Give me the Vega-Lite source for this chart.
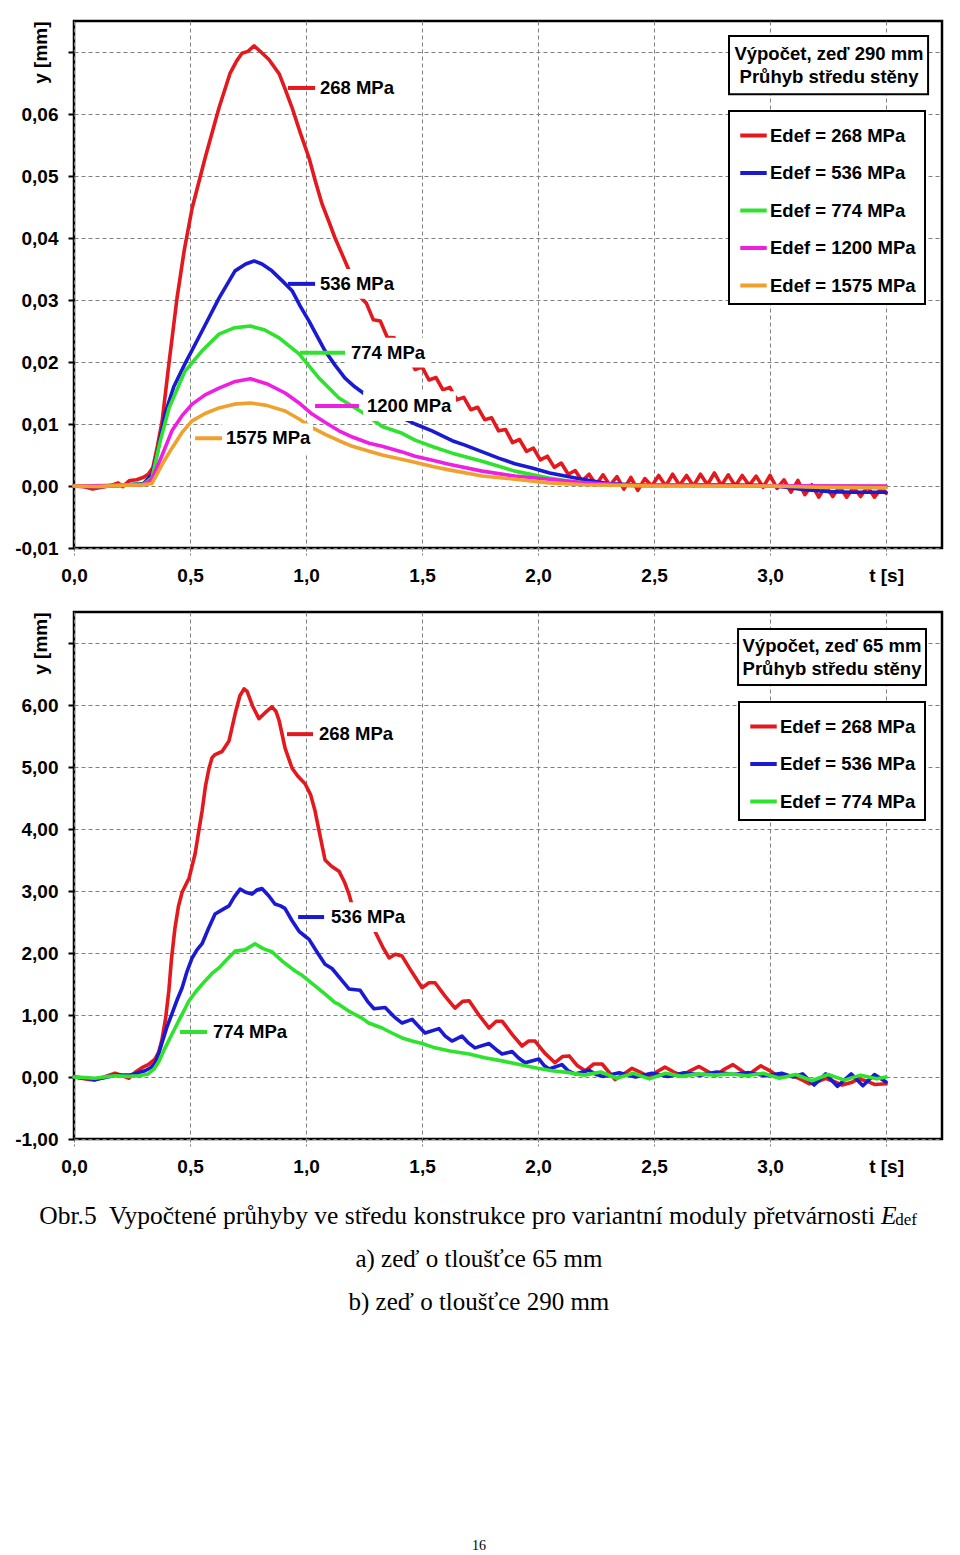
{
"$schema": "https://vega.github.io/schema/vega-lite/v6.json",
"padding": {"left": 13, "top": 19, "right": 0, "bottom": 0},
"background": "white",
"bounds": "flush",
"spacing": 64,
"resolve": {"scale": {"x": "independent", "y": "independent", "color": "independent"}, "legend": {"color": "independent"}},
"datasets": {
"p1": [
{"s":"268","t":0,"y":0},{"s":"268","t":0.04,"y":-0.0001},{"s":"268","t":0.08,"y":-0.0005},{"s":"268","t":0.12,"y":-0.0002},{"s":"268","t":0.16,"y":0.0001},{"s":"268","t":0.19,"y":0.0005},{"s":"268","t":0.21,"y":-0.0001},{"s":"268","t":0.24,"y":0.0009},{"s":"268","t":0.27,"y":0.001},{"s":"268","t":0.3,"y":0.0014},{"s":"268","t":0.32,"y":0.0019},{"s":"268","t":0.34,"y":0.003},{"s":"268","t":0.36,"y":0.0065},{"s":"268","t":0.38,"y":0.0105},{"s":"268","t":0.41,"y":0.02},{"s":"268","t":0.444,"y":0.0303},{"s":"268","t":0.475,"y":0.038},{"s":"268","t":0.509,"y":0.0448},{"s":"268","t":0.565,"y":0.0529},{"s":"268","t":0.625,"y":0.061},{"s":"268","t":0.672,"y":0.0665},{"s":"268","t":0.7,"y":0.0685},{"s":"268","t":0.724,"y":0.0698},{"s":"268","t":0.75,"y":0.0701},{"s":"268","t":0.776,"y":0.071},{"s":"268","t":0.8,"y":0.0702},{"s":"268","t":0.84,"y":0.0688},{"s":"268","t":0.884,"y":0.0665},{"s":"268","t":0.91,"y":0.064},{"s":"268","t":0.94,"y":0.061},{"s":"268","t":0.975,"y":0.057},{"s":"268","t":1.013,"y":0.0529},{"s":"268","t":1.04,"y":0.0492},{"s":"268","t":1.069,"y":0.0455},{"s":"268","t":1.1,"y":0.0425},{"s":"268","t":1.125,"y":0.04},{"s":"268","t":1.168,"y":0.0363},{"s":"268","t":1.2,"y":0.0335},{"s":"268","t":1.23,"y":0.0306},{"s":"268","t":1.26,"y":0.0295},{"s":"268","t":1.29,"y":0.0268},{"s":"268","t":1.32,"y":0.0266},{"s":"268","t":1.35,"y":0.024},{"s":"268","t":1.38,"y":0.0239},{"s":"268","t":1.41,"y":0.0213},{"s":"268","t":1.44,"y":0.0212},{"s":"268","t":1.47,"y":0.0188},{"s":"268","t":1.5,"y":0.0192},{"s":"268","t":1.53,"y":0.0171},{"s":"268","t":1.56,"y":0.0175},{"s":"268","t":1.59,"y":0.0155},{"s":"268","t":1.62,"y":0.0159},{"s":"268","t":1.65,"y":0.0139},{"s":"268","t":1.68,"y":0.0143},{"s":"268","t":1.71,"y":0.0123},{"s":"268","t":1.74,"y":0.0127},{"s":"268","t":1.77,"y":0.0107},{"s":"268","t":1.8,"y":0.011},{"s":"268","t":1.83,"y":0.0089},{"s":"268","t":1.86,"y":0.0091},{"s":"268","t":1.89,"y":0.007},{"s":"268","t":1.92,"y":0.0075},{"s":"268","t":1.95,"y":0.0056},{"s":"268","t":1.98,"y":0.0061},{"s":"268","t":2.01,"y":0.0042},{"s":"268","t":2.04,"y":0.0048},{"s":"268","t":2.07,"y":0.003},{"s":"268","t":2.1,"y":0.0037},{"s":"268","t":2.13,"y":0.0019},{"s":"268","t":2.16,"y":0.0025},{"s":"268","t":2.19,"y":0.0008},{"s":"268","t":2.22,"y":0.0019},{"s":"268","t":2.25,"y":0.0002},{"s":"268","t":2.28,"y":0.0018},{"s":"268","t":2.31,"y":0.0001},{"s":"268","t":2.34,"y":0.0015},{"s":"268","t":2.37,"y":-0.0005},{"s":"268","t":2.4,"y":0.0014},{"s":"268","t":2.43,"y":-0.0007},{"s":"268","t":2.46,"y":0.0012},{"s":"268","t":2.49,"y":0},{"s":"268","t":2.52,"y":0.0017},{"s":"268","t":2.55,"y":0},{"s":"268","t":2.58,"y":0.0019},{"s":"268","t":2.61,"y":0.0001},{"s":"268","t":2.64,"y":0.0017},{"s":"268","t":2.67,"y":0},{"s":"268","t":2.7,"y":0.0019},{"s":"268","t":2.73,"y":0.0002},{"s":"268","t":2.76,"y":0.0021},{"s":"268","t":2.79,"y":0.0001},{"s":"268","t":2.82,"y":0.0018},{"s":"268","t":2.85,"y":0},{"s":"268","t":2.88,"y":0.0017},{"s":"268","t":2.91,"y":0.0001},{"s":"268","t":2.94,"y":0.0016},{"s":"268","t":2.97,"y":-0.0002},{"s":"268","t":3.0,"y":0.0017},{"s":"268","t":3.03,"y":-0.0004},{"s":"268","t":3.06,"y":0.001},{"s":"268","t":3.09,"y":-0.001},{"s":"268","t":3.12,"y":0.0009},{"s":"268","t":3.15,"y":-0.0014},{"s":"268","t":3.18,"y":0.0002},{"s":"268","t":3.21,"y":-0.0018},{"s":"268","t":3.24,"y":0},{"s":"268","t":3.27,"y":-0.0017},{"s":"268","t":3.3,"y":-0.0001},{"s":"268","t":3.33,"y":-0.0018},{"s":"268","t":3.36,"y":-0.0002},{"s":"268","t":3.39,"y":-0.0017},{"s":"268","t":3.42,"y":-0.0001},{"s":"268","t":3.45,"y":-0.0018},{"s":"268","t":3.48,"y":-0.0003},{"s":"268","t":3.5,"y":-0.0012},
{"s":"536","t":0,"y":0},{"s":"536","t":0.1,"y":-0.0001},{"s":"536","t":0.2,"y":0.0001},{"s":"536","t":0.3,"y":0.0004},{"s":"536","t":0.336,"y":0.0019},{"s":"536","t":0.36,"y":0.0055},{"s":"536","t":0.392,"y":0.0116},{"s":"536","t":0.43,"y":0.016},{"s":"536","t":0.478,"y":0.0197},{"s":"536","t":0.552,"y":0.025},{"s":"536","t":0.625,"y":0.0303},{"s":"536","t":0.694,"y":0.0347},{"s":"536","t":0.74,"y":0.0358},{"s":"536","t":0.776,"y":0.0363},{"s":"536","t":0.81,"y":0.0358},{"s":"536","t":0.853,"y":0.0347},{"s":"536","t":0.9,"y":0.033},{"s":"536","t":0.94,"y":0.0315},{"s":"536","t":0.975,"y":0.029},{"s":"536","t":1.013,"y":0.0266},{"s":"536","t":1.05,"y":0.024},{"s":"536","t":1.082,"y":0.0218},{"s":"536","t":1.125,"y":0.0195},{"s":"536","t":1.168,"y":0.0174},{"s":"536","t":1.21,"y":0.016},{"s":"536","t":1.254,"y":0.0148},{"s":"536","t":1.33,"y":0.0128},{"s":"536","t":1.414,"y":0.011},{"s":"536","t":1.47,"y":0.01},{"s":"536","t":1.543,"y":0.0089},{"s":"536","t":1.63,"y":0.0073},{"s":"536","t":1.685,"y":0.0066},{"s":"536","t":1.76,"y":0.0055},{"s":"536","t":1.83,"y":0.0045},{"s":"536","t":1.9,"y":0.0036},{"s":"536","t":1.974,"y":0.0029},{"s":"536","t":2.05,"y":0.0021},{"s":"536","t":2.117,"y":0.0016},{"s":"536","t":2.19,"y":0.0011},{"s":"536","t":2.3,"y":0.0004},{"s":"536","t":2.45,"y":0.0001},{"s":"536","t":2.7,"y":0.0002},{"s":"536","t":2.95,"y":0.0001},{"s":"536","t":3.05,"y":-0.0001},{"s":"536","t":3.15,"y":-0.0006},{"s":"536","t":3.25,"y":-0.0009},{"s":"536","t":3.35,"y":-0.001},{"s":"536","t":3.5,"y":-0.001},
{"s":"774","t":0,"y":0},{"s":"774","t":0.1,"y":0},{"s":"774","t":0.2,"y":0.0001},{"s":"774","t":0.3,"y":0.0003},{"s":"774","t":0.336,"y":0.0013},{"s":"774","t":0.37,"y":0.007},{"s":"774","t":0.41,"y":0.0126},{"s":"774","t":0.478,"y":0.0185},{"s":"774","t":0.552,"y":0.0218},{"s":"774","t":0.625,"y":0.0245},{"s":"774","t":0.69,"y":0.0255},{"s":"774","t":0.76,"y":0.0258},{"s":"774","t":0.82,"y":0.0252},{"s":"774","t":0.884,"y":0.0239},{"s":"774","t":0.97,"y":0.0213},{"s":"774","t":1.056,"y":0.0174},{"s":"774","t":1.142,"y":0.0142},{"s":"774","t":1.254,"y":0.0116},{"s":"774","t":1.328,"y":0.0096},{"s":"774","t":1.414,"y":0.0085},{"s":"774","t":1.47,"y":0.0074},{"s":"774","t":1.55,"y":0.0063},{"s":"774","t":1.63,"y":0.0053},{"s":"774","t":1.759,"y":0.004},{"s":"774","t":1.9,"y":0.0024},{"s":"774","t":2.047,"y":0.0013},{"s":"774","t":2.13,"y":0.0008},{"s":"774","t":2.25,"y":0.0003},{"s":"774","t":2.4,"y":0.0001},{"s":"774","t":2.7,"y":0.0001},{"s":"774","t":3.0,"y":0},{"s":"774","t":3.5,"y":-0.0001},
{"s":"1200","t":0,"y":0},{"s":"1200","t":0.2,"y":0.0001},{"s":"1200","t":0.3,"y":0.0002},{"s":"1200","t":0.336,"y":0.0011},{"s":"1200","t":0.38,"y":0.005},{"s":"1200","t":0.422,"y":0.0089},{"s":"1200","t":0.465,"y":0.0113},{"s":"1200","t":0.509,"y":0.0132},{"s":"1200","t":0.565,"y":0.0147},{"s":"1200","t":0.625,"y":0.0158},{"s":"1200","t":0.69,"y":0.0168},{"s":"1200","t":0.76,"y":0.0173},{"s":"1200","t":0.83,"y":0.0165},{"s":"1200","t":0.91,"y":0.015},{"s":"1200","t":0.97,"y":0.0134},{"s":"1200","t":1.026,"y":0.0116},{"s":"1200","t":1.085,"y":0.0102},{"s":"1200","t":1.142,"y":0.0089},{"s":"1200","t":1.2,"y":0.0079},{"s":"1200","t":1.272,"y":0.0069},{"s":"1200","t":1.328,"y":0.0064},{"s":"1200","t":1.414,"y":0.0055},{"s":"1200","t":1.47,"y":0.0048},{"s":"1200","t":1.55,"y":0.0041},{"s":"1200","t":1.616,"y":0.0035},{"s":"1200","t":1.759,"y":0.0024},{"s":"1200","t":1.9,"y":0.0016},{"s":"1200","t":2.047,"y":0.0011},{"s":"1200","t":2.2,"y":0.0005},{"s":"1200","t":2.4,"y":0.0001},{"s":"1200","t":3.5,"y":0},
{"s":"1575","t":0,"y":0},{"s":"1575","t":0.1,"y":-0.0001},{"s":"1575","t":0.2,"y":0.0001},{"s":"1575","t":0.3,"y":0.0002},{"s":"1575","t":0.336,"y":0.0004},{"s":"1575","t":0.38,"y":0.0035},{"s":"1575","t":0.422,"y":0.0061},{"s":"1575","t":0.465,"y":0.0086},{"s":"1575","t":0.509,"y":0.0105},{"s":"1575","t":0.565,"y":0.0117},{"s":"1575","t":0.625,"y":0.0126},{"s":"1575","t":0.69,"y":0.0132},{"s":"1575","t":0.76,"y":0.0134},{"s":"1575","t":0.83,"y":0.013},{"s":"1575","t":0.91,"y":0.0121},{"s":"1575","t":0.97,"y":0.0108},{"s":"1575","t":1.026,"y":0.0094},{"s":"1575","t":1.085,"y":0.0083},{"s":"1575","t":1.142,"y":0.0073},{"s":"1575","t":1.2,"y":0.0064},{"s":"1575","t":1.272,"y":0.0056},{"s":"1575","t":1.328,"y":0.005},{"s":"1575","t":1.45,"y":0.004},{"s":"1575","t":1.55,"y":0.0031},{"s":"1575","t":1.616,"y":0.0026},{"s":"1575","t":1.759,"y":0.0016},{"s":"1575","t":1.9,"y":0.0011},{"s":"1575","t":2.047,"y":0.0005},{"s":"1575","t":2.2,"y":0.0002},{"s":"1575","t":2.5,"y":0},{"s":"1575","t":3.0,"y":0},{"s":"1575","t":3.2,"y":-0.0002},{"s":"1575","t":3.5,"y":-0.0003}
],
"p2": [
{"s":"268","t":0,"y":0},{"s":"268","t":0.05,"y":-0.03},{"s":"268","t":0.09,"y":-0.05},{"s":"268","t":0.13,"y":0},{"s":"268","t":0.177,"y":0.06},{"s":"268","t":0.21,"y":0.02},{"s":"268","t":0.237,"y":-0.02},{"s":"268","t":0.265,"y":0.08},{"s":"268","t":0.293,"y":0.15},{"s":"268","t":0.32,"y":0.2},{"s":"268","t":0.349,"y":0.29},{"s":"268","t":0.365,"y":0.4},{"s":"268","t":0.379,"y":0.6},{"s":"268","t":0.395,"y":0.95},{"s":"268","t":0.409,"y":1.4},{"s":"268","t":0.42,"y":1.9},{"s":"268","t":0.435,"y":2.4},{"s":"268","t":0.45,"y":2.75},{"s":"268","t":0.466,"y":2.98},{"s":"268","t":0.496,"y":3.21},{"s":"268","t":0.522,"y":3.6},{"s":"268","t":0.537,"y":3.95},{"s":"268","t":0.552,"y":4.29},{"s":"268","t":0.567,"y":4.7},{"s":"268","t":0.582,"y":4.98},{"s":"268","t":0.595,"y":5.15},{"s":"268","t":0.608,"y":5.2},{"s":"268","t":0.638,"y":5.25},{"s":"268","t":0.668,"y":5.42},{"s":"268","t":0.694,"y":5.85},{"s":"268","t":0.715,"y":6.15},{"s":"268","t":0.733,"y":6.26},{"s":"268","t":0.746,"y":6.22},{"s":"268","t":0.77,"y":5.98},{"s":"268","t":0.797,"y":5.78},{"s":"268","t":0.825,"y":5.88},{"s":"268","t":0.853,"y":5.97},{"s":"268","t":0.87,"y":5.9},{"s":"268","t":0.884,"y":5.75},{"s":"268","t":0.91,"y":5.3},{"s":"268","t":0.94,"y":4.98},{"s":"268","t":0.965,"y":4.85},{"s":"268","t":0.996,"y":4.73},{"s":"268","t":1.02,"y":4.55},{"s":"268","t":1.039,"y":4.29},{"s":"268","t":1.06,"y":3.9},{"s":"268","t":1.082,"y":3.5},{"s":"268","t":1.11,"y":3.4},{"s":"268","t":1.142,"y":3.32},{"s":"268","t":1.165,"y":3.15},{"s":"268","t":1.185,"y":2.95},{"s":"268","t":1.2,"y":2.75},{"s":"268","t":1.25,"y":2.55},{"s":"268","t":1.297,"y":2.35},{"s":"268","t":1.33,"y":2.1},{"s":"268","t":1.358,"y":1.92},{"s":"268","t":1.385,"y":1.98},{"s":"268","t":1.414,"y":1.95},{"s":"268","t":1.455,"y":1.7},{"s":"268","t":1.5,"y":1.44},{"s":"268","t":1.53,"y":1.52},{"s":"268","t":1.556,"y":1.52},{"s":"268","t":1.6,"y":1.3},{"s":"268","t":1.642,"y":1.11},{"s":"268","t":1.675,"y":1.22},{"s":"268","t":1.703,"y":1.23},{"s":"268","t":1.745,"y":1.0},{"s":"268","t":1.789,"y":0.79},{"s":"268","t":1.82,"y":0.9},{"s":"268","t":1.845,"y":0.9},{"s":"268","t":1.89,"y":0.68},{"s":"268","t":1.931,"y":0.5},{"s":"268","t":1.96,"y":0.58},{"s":"268","t":1.987,"y":0.58},{"s":"268","t":2.03,"y":0.38},{"s":"268","t":2.073,"y":0.23},{"s":"268","t":2.105,"y":0.33},{"s":"268","t":2.134,"y":0.34},{"s":"268","t":2.17,"y":0.18},{"s":"268","t":2.203,"y":0.1},{"s":"268","t":2.24,"y":0.21},{"s":"268","t":2.276,"y":0.21},{"s":"268","t":2.332,"y":-0.04},{"s":"268","t":2.37,"y":0.05},{"s":"268","t":2.405,"y":0.14},{"s":"268","t":2.44,"y":0.08},{"s":"268","t":2.478,"y":0},{"s":"268","t":2.51,"y":0.08},{"s":"268","t":2.547,"y":0.16},{"s":"268","t":2.585,"y":0.08},{"s":"268","t":2.621,"y":0.02},{"s":"268","t":2.655,"y":0.1},{"s":"268","t":2.694,"y":0.17},{"s":"268","t":2.73,"y":0.09},{"s":"268","t":2.765,"y":0.02},{"s":"268","t":2.8,"y":0.12},{"s":"268","t":2.84,"y":0.2},{"s":"268","t":2.87,"y":0.12},{"s":"268","t":2.905,"y":0.03},{"s":"268","t":2.93,"y":0.1},{"s":"268","t":2.96,"y":0.18},{"s":"268","t":3.0,"y":0.1},{"s":"268","t":3.03,"y":0.02},{"s":"268","t":3.07,"y":0.01},{"s":"268","t":3.1,"y":0.02},{"s":"268","t":3.14,"y":-0.05},{"s":"268","t":3.17,"y":-0.11},{"s":"268","t":3.2,"y":-0.08},{"s":"268","t":3.24,"y":-0.02},{"s":"268","t":3.28,"y":-0.08},{"s":"268","t":3.31,"y":-0.13},{"s":"268","t":3.35,"y":-0.09},{"s":"268","t":3.38,"y":-0.03},{"s":"268","t":3.42,"y":-0.07},{"s":"268","t":3.45,"y":-0.12},{"s":"268","t":3.5,"y":-0.11},
{"s":"536","t":0,"y":0},{"s":"536","t":0.05,"y":-0.02},{"s":"536","t":0.09,"y":-0.04},{"s":"536","t":0.13,"y":-0.01},{"s":"536","t":0.177,"y":0.03},{"s":"536","t":0.237,"y":0.03},{"s":"536","t":0.27,"y":0.06},{"s":"536","t":0.306,"y":0.1},{"s":"536","t":0.33,"y":0.15},{"s":"536","t":0.349,"y":0.22},{"s":"536","t":0.365,"y":0.38},{"s":"536","t":0.379,"y":0.55},{"s":"536","t":0.4,"y":0.8},{"s":"536","t":0.422,"y":1.02},{"s":"536","t":0.445,"y":1.25},{"s":"536","t":0.466,"y":1.44},{"s":"536","t":0.487,"y":1.7},{"s":"536","t":0.509,"y":1.92},{"s":"536","t":0.53,"y":2.05},{"s":"536","t":0.552,"y":2.15},{"s":"536","t":0.58,"y":2.4},{"s":"536","t":0.608,"y":2.63},{"s":"536","t":0.64,"y":2.7},{"s":"536","t":0.668,"y":2.76},{"s":"536","t":0.69,"y":2.9},{"s":"536","t":0.716,"y":3.03},{"s":"536","t":0.74,"y":2.98},{"s":"536","t":0.767,"y":2.95},{"s":"536","t":0.79,"y":3.02},{"s":"536","t":0.81,"y":3.04},{"s":"536","t":0.84,"y":2.92},{"s":"536","t":0.866,"y":2.79},{"s":"536","t":0.89,"y":2.76},{"s":"536","t":0.909,"y":2.72},{"s":"536","t":0.94,"y":2.52},{"s":"536","t":0.97,"y":2.35},{"s":"536","t":0.996,"y":2.27},{"s":"536","t":1.013,"y":2.22},{"s":"536","t":1.05,"y":2.0},{"s":"536","t":1.082,"y":1.82},{"s":"536","t":1.112,"y":1.75},{"s":"536","t":1.15,"y":1.58},{"s":"536","t":1.185,"y":1.42},{"s":"536","t":1.233,"y":1.4},{"s":"536","t":1.265,"y":1.22},{"s":"536","t":1.293,"y":1.1},{"s":"536","t":1.341,"y":1.12},{"s":"536","t":1.38,"y":0.97},{"s":"536","t":1.414,"y":0.87},{"s":"536","t":1.457,"y":0.93},{"s":"536","t":1.49,"y":0.8},{"s":"536","t":1.513,"y":0.71},{"s":"536","t":1.573,"y":0.78},{"s":"536","t":1.6,"y":0.66},{"s":"536","t":1.629,"y":0.58},{"s":"536","t":1.672,"y":0.66},{"s":"536","t":1.7,"y":0.55},{"s":"536","t":1.728,"y":0.47},{"s":"536","t":1.789,"y":0.54},{"s":"536","t":1.82,"y":0.44},{"s":"536","t":1.845,"y":0.37},{"s":"536","t":1.888,"y":0.41},{"s":"536","t":1.915,"y":0.31},{"s":"536","t":1.944,"y":0.23},{"s":"536","t":2.004,"y":0.29},{"s":"536","t":2.025,"y":0.19},{"s":"536","t":2.047,"y":0.13},{"s":"536","t":2.103,"y":0.2},{"s":"536","t":2.13,"y":0.1},{"s":"536","t":2.16,"y":0.05},{"s":"536","t":2.22,"y":0.11},{"s":"536","t":2.25,"y":0.04},{"s":"536","t":2.28,"y":0.01},{"s":"536","t":2.35,"y":0.07},{"s":"536","t":2.42,"y":0},{"s":"536","t":2.49,"y":0.06},{"s":"536","t":2.56,"y":0.01},{"s":"536","t":2.63,"y":0.07},{"s":"536","t":2.7,"y":0.03},{"s":"536","t":2.77,"y":0.08},{"s":"536","t":2.84,"y":0.04},{"s":"536","t":2.91,"y":0.07},{"s":"536","t":2.98,"y":0.02},{"s":"536","t":3.05,"y":0.06},{"s":"536","t":3.1,"y":0},{"s":"536","t":3.14,"y":0.05},{"s":"536","t":3.19,"y":-0.13},{"s":"536","t":3.24,"y":0.05},{"s":"536","t":3.29,"y":-0.15},{"s":"536","t":3.35,"y":0.05},{"s":"536","t":3.4,"y":-0.14},{"s":"536","t":3.45,"y":0.04},{"s":"536","t":3.5,"y":-0.08},
{"s":"774","t":0,"y":0},{"s":"774","t":0.05,"y":-0.01},{"s":"774","t":0.09,"y":-0.02},{"s":"774","t":0.13,"y":0},{"s":"774","t":0.177,"y":0.02},{"s":"774","t":0.237,"y":0.01},{"s":"774","t":0.28,"y":0.02},{"s":"774","t":0.32,"y":0.05},{"s":"774","t":0.345,"y":0.13},{"s":"774","t":0.366,"y":0.25},{"s":"774","t":0.39,"y":0.45},{"s":"774","t":0.422,"y":0.69},{"s":"774","t":0.46,"y":0.97},{"s":"774","t":0.496,"y":1.23},{"s":"774","t":0.53,"y":1.4},{"s":"774","t":0.565,"y":1.55},{"s":"774","t":0.595,"y":1.67},{"s":"774","t":0.625,"y":1.76},{"s":"774","t":0.66,"y":1.9},{"s":"774","t":0.694,"y":2.03},{"s":"774","t":0.737,"y":2.05},{"s":"774","t":0.78,"y":2.15},{"s":"774","t":0.815,"y":2.07},{"s":"774","t":0.853,"y":2.02},{"s":"774","t":0.9,"y":1.86},{"s":"774","t":0.953,"y":1.71},{"s":"774","t":0.983,"y":1.64},{"s":"774","t":1.039,"y":1.47},{"s":"774","t":1.085,"y":1.33},{"s":"774","t":1.125,"y":1.2},{"s":"774","t":1.142,"y":1.17},{"s":"774","t":1.19,"y":1.05},{"s":"774","t":1.241,"y":0.95},{"s":"774","t":1.27,"y":0.87},{"s":"774","t":1.328,"y":0.79},{"s":"774","t":1.37,"y":0.71},{"s":"774","t":1.414,"y":0.63},{"s":"774","t":1.457,"y":0.58},{"s":"774","t":1.5,"y":0.54},{"s":"774","t":1.556,"y":0.47},{"s":"774","t":1.62,"y":0.42},{"s":"774","t":1.703,"y":0.37},{"s":"774","t":1.77,"y":0.31},{"s":"774","t":1.845,"y":0.26},{"s":"774","t":1.92,"y":0.2},{"s":"774","t":1.987,"y":0.15},{"s":"774","t":2.06,"y":0.1},{"s":"774","t":2.134,"y":0.07},{"s":"774","t":2.2,"y":0.03},{"s":"774","t":2.27,"y":0.08},{"s":"774","t":2.34,"y":-0.02},{"s":"774","t":2.41,"y":0.06},{"s":"774","t":2.48,"y":-0.03},{"s":"774","t":2.55,"y":0.06},{"s":"774","t":2.62,"y":0.01},{"s":"774","t":2.69,"y":0.05},{"s":"774","t":2.76,"y":0.03},{"s":"774","t":2.83,"y":0.05},{"s":"774","t":2.9,"y":0.02},{"s":"774","t":2.97,"y":0.06},{"s":"774","t":3.04,"y":-0.02},{"s":"774","t":3.11,"y":0.04},{"s":"774","t":3.18,"y":-0.06},{"s":"774","t":3.25,"y":0.04},{"s":"774","t":3.32,"y":-0.05},{"s":"774","t":3.39,"y":0.03},{"s":"774","t":3.46,"y":-0.03},{"s":"774","t":3.5,"y":0}
],
"a1": [
{"s":"268","label":"268 MPa","lx1":0.922,"lx2":1.039,"tx":1.06,"y":0.0642,"bx1":1.043,"bx2":1.4,"by1":0.0666,"by2":0.0618},
{"s":"536","label":"536 MPa","lx1":0.922,"lx2":1.039,"tx":1.06,"y":0.0326,"bx1":1.043,"bx2":1.4,"by1":0.035,"by2":0.0302},
{"s":"774","label":"774 MPa","lx1":0.974,"lx2":1.168,"tx":1.194,"y":0.0215,"bx1":1.177,"bx2":1.534,"by1":0.0239,"by2":0.0191},
{"s":"1200","label":"1200 MPa","lx1":1.039,"lx2":1.228,"tx":1.263,"y":0.0129,"bx1":1.246,"bx2":1.646,"by1":0.0153,"by2":0.0105},
{"s":"1575","label":"1575 MPa","lx1":0.522,"lx2":0.638,"tx":0.655,"y":0.0077,"bx1":0.638,"bx2":1.03,"by1":0.0101,"by2":0.0053}
],
"a2": [
{"s":"268","label":"268 MPa","lx1":0.918,"lx2":1.03,"tx":1.056,"y":5.53,"bx1":1.039,"bx2":1.396,"by1":5.77,"by2":5.29},
{"s":"536","label":"536 MPa","lx1":0.966,"lx2":1.078,"tx":1.108,"y":2.58,"bx1":1.091,"bx2":1.448,"by1":2.82,"by2":2.34},
{"s":"774","label":"774 MPa","lx1":0.457,"lx2":0.573,"tx":0.599,"y":0.726,"bx1":0.582,"bx2":0.939,"by1":0.97,"by2":0.48}
],
"b1": [{"t1":2.823,"t2":3.681,"y1":0.0726,"y2":0.0632}],
"c1": [{"text":"Výpočet, zeď 290 mm","t":3.254,"y":0.0697},{"text":"Průhyb středu stěny","t":3.254,"y":0.066}],
"b2": [{"t1":2.862,"t2":3.672,"y1":7.226,"y2":6.323}],
"c2": [{"text":"Výpočet, zeď 65 mm","t":3.267,"y":6.95},{"text":"Průhyb středu stěny","t":3.267,"y":6.58}],
"cap": [
{"part":"main","text":"Obr.5\u00a0 Vypočtené průhyby ve středu konstrukce pro variantní moduly přetvárnosti","x":3.453,"line":0},
{"part":"E","text":"E","x":3.478,"line":0},
{"part":"sub","text":"def","x":3.539,"line":0.1},
{"part":"center","text":"a) zeď o tloušťce 65 mm","x":1.745,"line":1},
{"part":"center","text":"b) zeď o tloušťce 290 mm","x":1.745,"line":2},
{"part":"page","text":"16","x":1.745,"line":7.67}
]
},
"vconcat": [
{
"width": 868, "height": 527,
"layer": [
{"data": {"name": "p1"},
 "mark": {"type": "line", "strokeWidth": 3.6, "strokeJoin": "round", "strokeCap": "round"},
 "encoding": {
  "x": {"field": "t", "type": "quantitative", "scale": {"domain": [0, 3.741], "nice": false, "zero": false},
        "axis": {"values": [0, 0.5, 1, 1.5, 2, 2.5, 3, 3.5], "format": ".1f", "labelExpr": "datum.value == 3.5 ? 't  [s]' : datum.label", "title": null}},
  "y": {"field": "y", "type": "quantitative", "scale": {"domain": [-0.01, 0.075], "nice": false, "zero": false},
        "axis": {"values": [-0.01, 0, 0.01, 0.02, 0.03, 0.04, 0.05, 0.06, 0.07], "format": ".2f", "labelExpr": "datum.value > 0.065 ? '' : datum.label", "title": "y [mm]", "titleX": -34, "titleY": 0, "titleAngle": 270, "titleAlign": "right", "titleBaseline": "middle"}},
  "color": {"field": "s", "type": "nominal", "scale": {"domain": ["268", "536", "774", "1200", "1575"], "range": ["#e3191e", "#1a1ad2", "#2ee22e", "#ee1fe0", "#f0a12d"]},
        "legend": {"orient": "none", "legendX": 655, "legendY": 90, "title": null, "labelExpr": "'Edef = ' + datum.label + ' MPa'"}}
 }},
{"data": {"name": "a1"}, "mark": {"type": "rect", "fill": "white"},
 "encoding": {"x": {"field": "bx1", "type": "quantitative"}, "x2": {"field": "bx2"}, "y": {"field": "by1", "type": "quantitative"}, "y2": {"field": "by2"}}},
{"data": {"name": "a1"}, "mark": {"type": "rule", "strokeWidth": 4},
 "encoding": {"x": {"field": "lx1", "type": "quantitative"}, "x2": {"field": "lx2"}, "y": {"field": "y", "type": "quantitative"}, "color": {"field": "s", "type": "nominal"}}},
{"data": {"name": "a1"}, "mark": {"type": "text", "align": "left", "baseline": "middle", "font": "Liberation Sans", "fontSize": 18.5, "fontWeight": "bold", "color": "black"},
 "encoding": {"x": {"field": "tx", "type": "quantitative"}, "y": {"field": "y", "type": "quantitative"}, "text": {"field": "label"}}},
{"data": {"name": "b1"}, "mark": {"type": "rect", "fill": "white", "stroke": "black", "strokeWidth": 2},
 "encoding": {"x": {"field": "t1", "type": "quantitative"}, "x2": {"field": "t2"}, "y": {"field": "y1", "type": "quantitative"}, "y2": {"field": "y2"}}},
{"data": {"name": "c1"}, "mark": {"type": "text", "align": "center", "baseline": "middle", "font": "Liberation Sans", "fontSize": 18.5, "fontWeight": "bold", "color": "black"},
 "encoding": {"x": {"field": "t", "type": "quantitative"}, "y": {"field": "y", "type": "quantitative"}, "text": {"field": "text"}}}
]
},
{
"width": 868, "height": 527,
"layer": [
{"data": {"name": "p2"},
 "mark": {"type": "line", "strokeWidth": 3.6, "strokeJoin": "round", "strokeCap": "round"},
 "encoding": {
  "x": {"field": "t", "type": "quantitative", "scale": {"domain": [0, 3.741], "nice": false, "zero": false},
        "axis": {"values": [0, 0.5, 1, 1.5, 2, 2.5, 3, 3.5], "format": ".1f", "labelExpr": "datum.value == 3.5 ? 't  [s]' : datum.label", "title": null}},
  "y": {"field": "y", "type": "quantitative", "scale": {"domain": [-1, 7.5], "nice": false, "zero": false},
        "axis": {"values": [-1, 0, 1, 2, 3, 4, 5, 6, 7], "format": ".2f", "labelExpr": "datum.value > 6.5 ? '' : datum.label", "title": "y [mm]", "titleX": -34, "titleY": 0, "titleAngle": 270, "titleAlign": "right", "titleBaseline": "middle"}},
  "color": {"field": "s", "type": "nominal", "scale": {"domain": ["268", "536", "774"], "range": ["#e3191e", "#1a1ad2", "#2ee22e"]},
        "legend": {"orient": "none", "legendX": 665, "legendY": 90, "title": null, "labelExpr": "'Edef = ' + datum.label + ' MPa'"}}
 }},
{"data": {"name": "a2"}, "mark": {"type": "rect", "fill": "white"},
 "encoding": {"x": {"field": "bx1", "type": "quantitative"}, "x2": {"field": "bx2"}, "y": {"field": "by1", "type": "quantitative"}, "y2": {"field": "by2"}}},
{"data": {"name": "a2"}, "mark": {"type": "rule", "strokeWidth": 4},
 "encoding": {"x": {"field": "lx1", "type": "quantitative"}, "x2": {"field": "lx2"}, "y": {"field": "y", "type": "quantitative"}, "color": {"field": "s", "type": "nominal"}}},
{"data": {"name": "a2"}, "mark": {"type": "text", "align": "left", "baseline": "middle", "font": "Liberation Sans", "fontSize": 18.5, "fontWeight": "bold", "color": "black"},
 "encoding": {"x": {"field": "tx", "type": "quantitative"}, "y": {"field": "y", "type": "quantitative"}, "text": {"field": "label"}}},
{"data": {"name": "b2"}, "mark": {"type": "rect", "fill": "white", "stroke": "black", "strokeWidth": 2},
 "encoding": {"x": {"field": "t1", "type": "quantitative"}, "x2": {"field": "t2"}, "y": {"field": "y1", "type": "quantitative"}, "y2": {"field": "y2"}}},
{"data": {"name": "c2"}, "mark": {"type": "text", "align": "center", "baseline": "middle", "font": "Liberation Sans", "fontSize": 18.5, "fontWeight": "bold", "color": "black"},
 "encoding": {"x": {"field": "t", "type": "quantitative"}, "y": {"field": "y", "type": "quantitative"}, "text": {"field": "text"}}}
]
},
{
"width": 868, "height": 353,
"view": {"stroke": null},
"data": {"name": "cap"},
"encoding": {
 "x": {"field": "x", "type": "quantitative", "scale": {"domain": [0, 3.741], "nice": false, "zero": false}, "axis": null},
 "y": {"field": "line", "type": "quantitative", "scale": {"domain": [-0.302, 7.907], "nice": false, "zero": false, "reverse": true}, "axis": null},
 "text": {"field": "text"}
},
"layer": [
 {"transform": [{"filter": "datum.part == 'main'"}], "mark": {"type": "text", "align": "right", "baseline": "middle", "font": "Liberation Serif", "fontSize": 25.5, "color": "black"}},
 {"transform": [{"filter": "datum.part == 'E'"}], "mark": {"type": "text", "align": "left", "baseline": "middle", "font": "Liberation Serif", "fontSize": 25.5, "fontStyle": "italic", "color": "black"}},
 {"transform": [{"filter": "datum.part == 'sub'"}], "mark": {"type": "text", "align": "left", "baseline": "middle", "font": "Liberation Serif", "fontSize": 17, "color": "black"}},
 {"transform": [{"filter": "datum.part == 'center'"}], "mark": {"type": "text", "align": "center", "baseline": "middle", "font": "Liberation Serif", "fontSize": 25, "color": "black"}},
 {"transform": [{"filter": "datum.part == 'page'"}], "mark": {"type": "text", "align": "center", "baseline": "middle", "font": "Liberation Serif", "fontSize": 14, "color": "black"}}
]
}
],
"config": {
 "font": "Liberation Sans",
 "locale": {"number": {"decimal": ",", "thousands": " ", "grouping": [3], "currency": ["", ""], "minus": "-"}},
 "view": {"stroke": "black", "strokeWidth": 2.5},
 "axis": {"labelFont": "Liberation Sans", "labelFontWeight": "bold", "labelFontSize": 19, "labelColor": "black", "gridColor": "#808080", "gridDash": [4, 3], "gridWidth": 1, "domain": false, "titleFont": "Liberation Sans", "titleFontWeight": "bold", "titleFontSize": 19, "titleColor": "black", "labelFlush": false},
 "axisX": {"tickColor": "#808080", "tickSize": 7, "tickDash": [3, 2], "labelPadding": 11},
 "axisY": {"tickColor": "black", "tickWidth": 2, "tickSize": 6, "labelPadding": 10},
 "legend": {"symbolType": "stroke", "symbolStrokeWidth": 4, "symbolSize": 700, "labelFont": "Liberation Sans", "labelFontWeight": "bold", "labelFontSize": 18.5, "labelColor": "black", "labelOffset": 1, "padding": 9, "rowPadding": 12.5, "strokeColor": "black", "strokeWidth": 2, "fillColor": "white"}
}
}
